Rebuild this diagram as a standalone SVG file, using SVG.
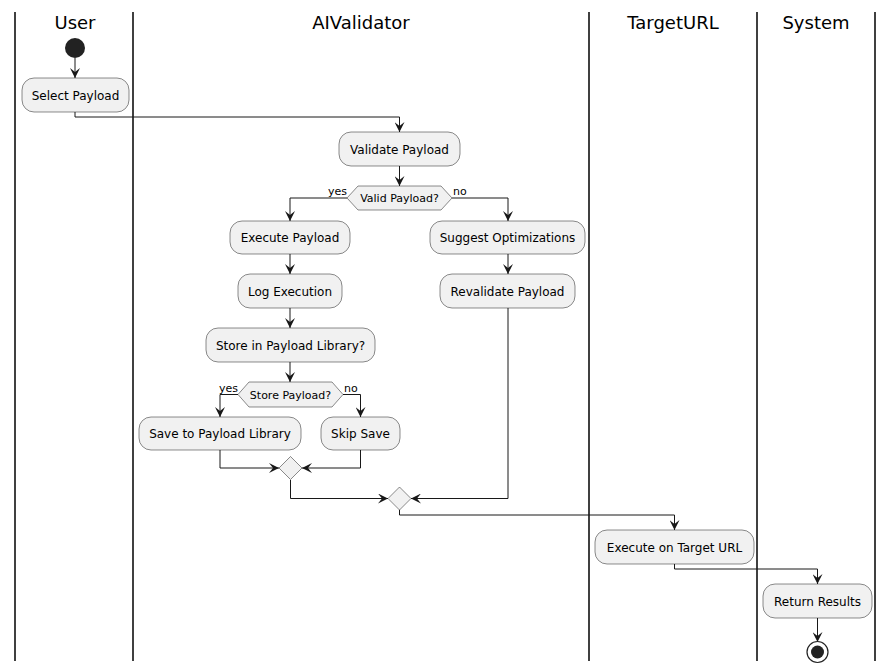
<svg xmlns="http://www.w3.org/2000/svg" width="894" height="671" viewBox="0 0 894 671">
<defs>
<style>
.lane{stroke:#000;stroke-width:1.5}
.title{font-family:"DejaVu Sans",sans-serif;font-size:18px;fill:#000;text-anchor:middle}
.box{fill:#F1F1F1;stroke:#181818;stroke-width:0.5}
.t{font-family:"DejaVu Sans",sans-serif;font-size:12px;fill:#000;text-anchor:middle}
.d{font-family:"DejaVu Sans",sans-serif;font-size:11px;fill:#000;text-anchor:middle}
.lbl{font-family:"DejaVu Sans",sans-serif;font-size:11px;fill:#000}
.c{fill:none;stroke:#181818;stroke-width:1}
</style>
<marker id="ah" viewBox="0 0 10 10" markerWidth="10" markerHeight="10" markerUnits="userSpaceOnUse" refX="10" refY="5" orient="auto">
<path d="M0,0 L10,5 L0,10 L4,5 Z" fill="#181818"/>
</marker>
</defs>
<rect width="894" height="671" fill="#fff"/>
<g id="lanes">
<line class="lane" x1="15" y1="12" x2="15" y2="661"/>
<line class="lane" x1="133" y1="12" x2="133" y2="661"/>
<line class="lane" x1="589" y1="12" x2="589" y2="661"/>
<line class="lane" x1="757" y1="12" x2="757" y2="661"/>
<line class="lane" x1="875" y1="12" x2="875" y2="661"/>
<text class="title" x="75" y="29">User</text>
<text class="title" x="361" y="29">AIValidator</text>
<text class="title" x="673" y="29">TargetURL</text>
<text class="title" x="816" y="29">System</text>
</g>
<g id="connectors">
<path class="c" d="M75,58 V78" marker-end="url(#ah)"/>
<path class="c" d="M75,112 V117 H399.5 V132" marker-end="url(#ah)"/>
<path class="c" d="M399.5,166 V186" marker-end="url(#ah)"/>
<path class="c" d="M347,198 H290 V221" marker-end="url(#ah)"/>
<path class="c" d="M452,198 H508 V221" marker-end="url(#ah)"/>
<path class="c" d="M290,254 V274" marker-end="url(#ah)"/>
<path class="c" d="M290,308 V328" marker-end="url(#ah)"/>
<path class="c" d="M290,362 V382" marker-end="url(#ah)"/>
<path class="c" d="M238,394.5 H220 V417" marker-end="url(#ah)"/>
<path class="c" d="M343,394.5 H360.5 V417" marker-end="url(#ah)"/>
<path class="c" d="M508,254 V274" marker-end="url(#ah)"/>
<path class="c" d="M220,450 V468 H279" marker-end="url(#ah)"/>
<path class="c" d="M360.5,450 V468 H302" marker-end="url(#ah)"/>
<path class="c" d="M290.5,480 V498.5 H388" marker-end="url(#ah)"/>
<path class="c" d="M508,308 V498.5 H411" marker-end="url(#ah)"/>
<path class="c" d="M399.5,510 V515 H674.5 V530" marker-end="url(#ah)"/>
<path class="c" d="M674.5,564 V569 H817.5 V584" marker-end="url(#ah)"/>
<path class="c" d="M817.5,618 V642" marker-end="url(#ah)"/>
<text class="lbl" x="328" y="195">yes</text>
<text class="lbl" x="453" y="195">no</text>
<text class="lbl" x="219" y="392">yes</text>
<text class="lbl" x="344" y="392">no</text>
</g>
<g id="start"><circle cx="75" cy="48" r="10" fill="#222"/></g>
<g id="select_payload"><rect class="box" x="22" y="78" width="107" height="34" rx="12"/><text class="t" x="75.5" y="99.5">Select Payload</text></g>
<g id="validate_payload"><rect class="box" x="339" y="132" width="121" height="34" rx="12"/><text class="t" x="399.5" y="153.5">Validate Payload</text></g>
<g id="valid_decision"><polygon class="box" points="347,198 358,186 441,186 452,198 441,210 358,210"/><text class="d" x="399.5" y="202">Valid Payload?</text></g>
<g id="execute_payload"><rect class="box" x="230" y="221" width="120" height="33" rx="12"/><text class="t" x="290" y="242">Execute Payload</text></g>
<g id="log_execution"><rect class="box" x="238" y="274" width="104" height="34" rx="12"/><text class="t" x="290" y="295.5">Log Execution</text></g>
<g id="store_question"><rect class="box" x="206" y="328" width="169" height="34" rx="12"/><text class="t" x="290.5" y="349.5">Store in Payload Library?</text></g>
<g id="store_decision"><polygon class="box" points="238,394.5 249,382 332,382 343,394.5 332,407 249,407"/><text class="d" x="290.5" y="398.5">Store Payload?</text></g>
<g id="save_library"><rect class="box" x="139" y="417" width="162" height="33" rx="12"/><text class="t" x="220" y="438">Save to Payload Library</text></g>
<g id="skip_save"><rect class="box" x="321" y="417" width="79" height="33" rx="12"/><text class="t" x="360.5" y="438">Skip Save</text></g>
<g id="suggest_opt"><rect class="box" x="430" y="221" width="155" height="33" rx="12"/><text class="t" x="507.5" y="242">Suggest Optimizations</text></g>
<g id="revalidate"><rect class="box" x="440" y="274" width="135" height="34" rx="12"/><text class="t" x="507.5" y="295.5">Revalidate Payload</text></g>
<g id="merge1"><polygon class="box" points="290.5,456.5 302,468 290.5,479.5 279,468"/></g>
<g id="merge2"><polygon class="box" points="399.5,487 411,498.5 399.5,510 388,498.5"/></g>
<g id="execute_target"><rect class="box" x="595" y="530" width="159" height="34" rx="12"/><text class="t" x="674.5" y="551.5">Execute on Target URL</text></g>
<g id="return_results"><rect class="box" x="763" y="584" width="109" height="34" rx="12"/><text class="t" x="817.5" y="605.5">Return Results</text></g>
<g id="end"><circle cx="817.5" cy="652" r="10.5" fill="none" stroke="#222" stroke-width="1.2"/><circle cx="817.5" cy="652" r="6.5" fill="#222"/></g>
</svg>
